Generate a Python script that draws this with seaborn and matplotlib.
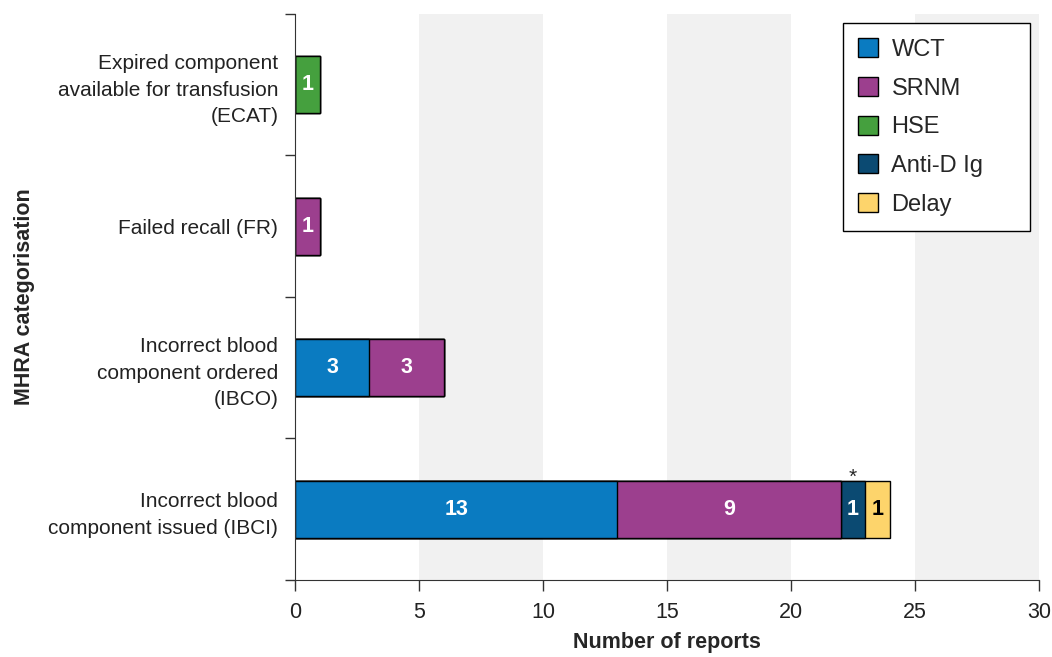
import matplotlib
matplotlib.use("Agg")
import matplotlib.pyplot as plt
import matplotlib.patches as mpatches
import numpy as np
import pandas as pd
import seaborn as sns

# Data
categories = ["Expired component\navailable for transfusion\n(ECAT)",
              "Failed recall (FR)",
              "Incorrect blood\ncomponent ordered\n(IBCO)",
              "Incorrect blood\ncomponent issued (IBCI)"]
series = ["WCT", "SRNM", "HSE", "Anti-D Ig", "Delay"]
wct = [0, 0, 3, 13]
srnm = [0, 1, 3, 9]
hse = [1, 0, 0, 0]
antid = [0, 0, 0, 1]
delay = [0, 0, 0, 1]
colors = ["#0a7bc1", "#9c3f8e", "#45a03e", "#0b4a72", "#fdd46b"]
label_colors = ["white", "white", "white", "white", "black"]

values = np.array([wct, srnm, hse, antid, delay])
cum = values.cumsum(axis=0)

sns.set_style("ticks")
plt.rcParams["font.family"] = ["Liberation Sans", "DejaVu Sans"]

fig = plt.figure(figsize=(10.52, 6.57), dpi=100)
ax = fig.add_axes([0.2804, 0.1172, 0.7072, 0.8615])

# grey background bands
for x0 in [5, 15, 25]:
    ax.axvspan(x0, x0 + 5, color="#f1f1f1", zorder=0, lw=0)

# stacked bars: draw cumulative totals from the top series down
for i in range(len(series) - 1, -1, -1):
    df = pd.DataFrame({"cat": categories, "val": cum[i]})
    sns.barplot(data=df, x="val", y="cat", order=categories, color=colors[i],
                orient="h", width=0.4, edgecolor="black", linewidth=1,
                saturation=1, ax=ax, zorder=2)

# value labels
for i in range(len(series)):
    for j in range(len(categories)):
        v = values[i, j]
        if v > 0:
            left = cum[i, j] - v
            ax.text(left + v / 2, j, str(v), ha="center", va="center",
                    color=label_colors[i], fontsize=15.5, fontweight="bold", zorder=3)

# asterisk above Anti-D Ig segment
ax.text(cum[3, 3] - antid[3] / 2, 2.815, "*", ha="center", va="baseline",
        fontsize=15, zorder=3)

ax.set_xlim(0, 30)
ax.set_ylim(3.5, -0.5)
ax.set_xticks(range(0, 31, 5))
ax.set_yticks(range(len(categories)))
ax.set_yticklabels(categories, fontsize=15)
ax.set_yticks(np.arange(-0.5, 4, 1), minor=True)
ax.tick_params(axis="y", which="major", length=0, pad=12)
ax.tick_params(axis="y", which="minor", length=7, width=1, color="#333333")
ax.tick_params(axis="x", length=8, width=1, color="#333333", labelsize=15.5, pad=8)
for lbl in ax.get_yticklabels():
    lbl.set_linespacing(1.5)
    lbl.set_color("#222222")
for lbl in ax.get_xticklabels():
    lbl.set_color("#222222")

ax.set_xlabel("Number of reports", fontsize=15.5, fontweight="bold", labelpad=6)
ax.set_ylabel("MHRA categorisation", fontsize=15.5, fontweight="bold", labelpad=10)

sns.despine(ax=ax, top=True, right=True)
ax.spines["left"].set_color("#333333")
ax.spines["bottom"].set_color("#333333")

handles = [mpatches.Patch(facecolor=c, edgecolor="black", lw=1, label=s)
           for c, s in zip(colors, series)]
leg = ax.legend(handles=handles, loc="upper left",
                bbox_to_anchor=(0.7366, 0.984, 0.2513, 0.0), mode="expand",
                fontsize=17, frameon=True, fancybox=False, edgecolor="black",
                handlelength=0.85, handleheight=0.85, handletextpad=0.55,
                labelspacing=0.68, borderpad=0.65, borderaxespad=0,
                framealpha=1)
leg.get_frame().set_linewidth(1)

fig.savefig("out.png", dpi=100)
